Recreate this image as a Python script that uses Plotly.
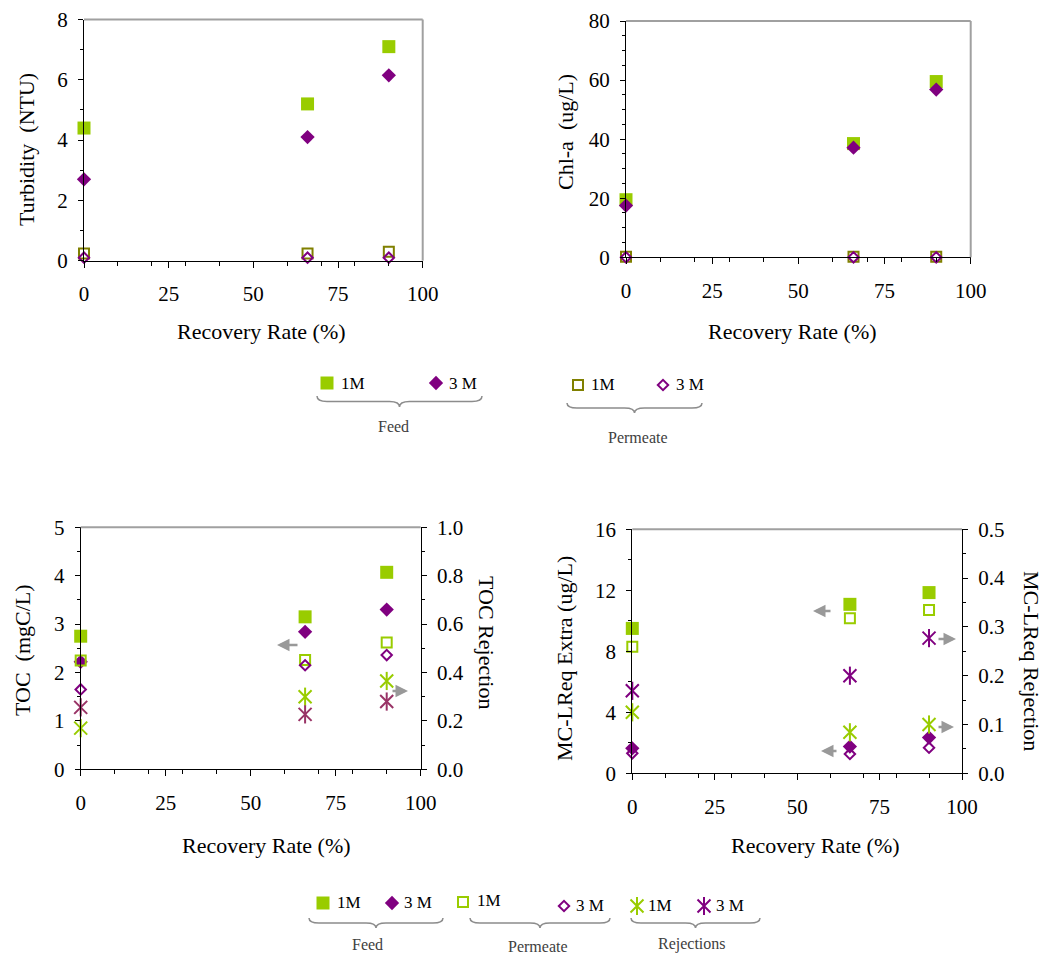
import plotly.graph_objects as go

# ---------------- data ----------------
recovery = [0, 66, 90]

turb_feed_1m = [4.4, 5.2, 7.1]
turb_feed_3m = [2.7, 4.1, 6.15]
turb_perm_1m = [0.24, 0.24, 0.3]
turb_perm_3m = [0.1, 0.1, 0.1]

chl_feed_1m = [19.5, 38.5, 59.5]
chl_feed_3m = [17.5, 37.1, 56.8]
chl_perm_1m = [0.2, 0.2, 0.2]
chl_perm_3m = [0.0, 0.0, 0.0]

toc_feed_1m = [2.75, 3.15, 4.07]
toc_feed_3m = [2.22, 2.84, 3.3]
toc_perm_1m = [2.25, 2.26, 2.62]
toc_perm_3m = [1.65, 2.15, 2.36]
toc_rej_1m = [0.17, 0.30, 0.365]
toc_rej_3m = [0.256, 0.227, 0.28]

mc_feed_1m = [9.5, 11.08, 11.85]
mc_feed_3m = [1.64, 1.75, 2.34]
mc_perm_1m = [8.3, 10.16, 10.7]
mc_perm_3m = [1.31, 1.27, 1.68]
mc_rej_1m = [0.125, 0.084, 0.10]
mc_rej_3m = [0.169, 0.20, 0.277]

# ---------------- style ----------------
W, H = 1043, 956
FONT = "Liberation Serif"
LIME = "#99CC00"
PURPLE = "#800080"
OLIVE = "#808000"
PLUM = "#993366"
GRAY = "#A0A0A0"
TICK_SIZE = 21
TITLE_SIZE = 22

def px_x(p):
    return p / W

def px_y(p):
    return 1 - p / H

fig = go.Figure()

def add(x, y, xa, ya, symbol, color, size, lw=0):
    fig.add_trace(go.Scatter(
        x=x, y=y, xaxis=xa, yaxis=ya, mode="markers", showlegend=False,
        cliponaxis=False,
        marker=dict(symbol=symbol, size=size, color=color,
                    line=dict(color=color, width=lw))))

def add_star(x, y, xa, ya, color, size=13):
    for sym in ("x-thin-open", "line-ns-open"):
        fig.add_trace(go.Scatter(
            x=x, y=y, xaxis=xa, yaxis=ya, mode="markers", showlegend=False,
            cliponaxis=False,
            marker=dict(symbol=sym, size=size, color=color,
                        line=dict(color=color, width=2))))

# Turbidity (x, y)
add(recovery, turb_feed_1m, "x", "y", "square", LIME, 13)
add(recovery, turb_feed_3m, "x", "y", "diamond", PURPLE, 11)
add(recovery, turb_perm_1m, "x", "y", "square-open", OLIVE, 10, 2)
add(recovery, turb_perm_3m, "x", "y", "diamond-open", PURPLE, 8, 2)

# Chl-a (x2, y2)
add(recovery, chl_feed_1m, "x2", "y2", "square", LIME, 13)
add(recovery, chl_feed_3m, "x2", "y2", "diamond", PURPLE, 11)
add(recovery, chl_perm_1m, "x2", "y2", "square-open", OLIVE, 10, 2)
add(recovery, chl_perm_3m, "x2", "y2", "diamond-open", PURPLE, 8, 2)

# TOC (x3, y3 / y5)
add(recovery, toc_feed_1m, "x3", "y3", "square", LIME, 13)
add(recovery, toc_feed_3m, "x3", "y3", "diamond", PURPLE, 11)
add(recovery, toc_perm_1m, "x3", "y3", "square-open", LIME, 10, 2)
add(recovery, toc_perm_3m, "x3", "y3", "diamond-open", PURPLE, 8, 2)
add_star(recovery, toc_rej_1m, "x3", "y5", LIME)
add_star(recovery, toc_rej_3m, "x3", "y5", PLUM)

# MC-LReq (x4, y4 / y6)
add(recovery, mc_feed_1m, "x4", "y4", "square", LIME, 13)
add(recovery, mc_feed_3m, "x4", "y4", "diamond", PURPLE, 11)
add(recovery, mc_perm_1m, "x4", "y4", "square-open", LIME, 10, 2)
add(recovery, mc_perm_3m, "x4", "y4", "diamond-open", PURPLE, 8, 2)
add_star(recovery, mc_rej_1m, "x4", "y6", LIME)
add_star(recovery, mc_rej_3m, "x4", "y6", PURPLE)

# ---------------- legend keys on a pixel overlay axis ----------------
leg_keys = [(327, 383, "square", LIME, 13, 0),
            (436, 383, "diamond", PURPLE, 11, 0),
            (578, 385, "square-open", OLIVE, 10, 2),
            (663, 385, "diamond-open", PURPLE, 8, 2),
            (323, 903, "square", LIME, 13, 0),
            (392, 903, "diamond", PURPLE, 11, 0),
            (463, 902, "square-open", LIME, 10, 2),
            (564, 906, "diamond-open", PURPLE, 8, 2)]
for (lx, ly, sym, col, sz, lw) in leg_keys:
    add([lx], [ly], "x9", "y9", sym, col, sz, lw)
add_star([637], [906], "x9", "y9", LIME)
add_star([704], [906], "x9", "y9", PURPLE)

# ---------------- axes ----------------
def xaxis_common(dom):
    return dict(domain=[px_x(dom[0]), px_x(dom[1])], range=[0, 100],
                tickvals=[0, 25, 50, 75, 100], ticks="outside", ticklen=6,
                tickcolor="black",
                minor=dict(dtick=10, tick0=0, ticks="outside", ticklen=4, tickcolor="black"),
                showline=True, linecolor="black", linewidth=1, showgrid=False,
                zeroline=False, automargin=False,
                tickfont=dict(family=FONT, size=TICK_SIZE, color="black"),
                ticklabelstandoff=8)

def yaxis_common(dom, rng, dtick, mdtick, side="left", overlay=None, fmt=None):
    d = dict(domain=[px_y(dom[1]), px_y(dom[0])], range=rng, dtick=dtick, tick0=0,
             ticks="outside", ticklen=5, tickcolor="black",
             minor=dict(dtick=mdtick, tick0=0, ticks="outside", ticklen=3, tickcolor="black"),
             showline=True, linecolor="black", linewidth=1, showgrid=False,
             zeroline=False, automargin=False,
             tickfont=dict(family=FONT, size=TICK_SIZE, color="black"),
             side=side, ticklabelstandoff=6)
    if overlay:
        d["overlaying"] = overlay
        d["anchor"] = overlay.replace("y", "x")
    if fmt:
        d["tickformat"] = fmt
    return d

P1x, P1y = (84, 422.7), (19.5, 260.7)
P2x, P2y = (626, 970.7), (21, 257.3)
P3x, P3y = (80.7, 420.7), (527.3, 769.3)
P4x, P4y = (632.3, 962), (529.3, 773.3)

layout = dict(
    template="none",
    width=W, height=H, margin=dict(l=0, r=0, t=0, b=0, pad=0), autosize=False,
    paper_bgcolor="white", plot_bgcolor="rgba(0,0,0,0)",
    font=dict(family=FONT, color="black"), showlegend=False,
    xaxis=dict(xaxis_common(P1x), anchor="y"),
    yaxis=dict(yaxis_common(P1y, [0, 8], 2, 1), anchor="x"),
    xaxis2=dict(xaxis_common(P2x), anchor="y2"),
    yaxis2=dict(yaxis_common(P2y, [0, 80], 20, 5), anchor="x2"),
    xaxis3=dict(xaxis_common(P3x), anchor="y3"),
    yaxis3=dict(yaxis_common(P3y, [0, 5], 1, 0.5), anchor="x3"),
    xaxis4=dict(xaxis_common(P4x), anchor="y4"),
    yaxis4=dict(yaxis_common(P4y, [0, 16], 4, 2), anchor="x4"),
    yaxis5=yaxis_common(P3y, [0, 1], 0.2, 0.1, side="right", overlay="y3", fmt=".1f"),
    yaxis6=yaxis_common(P4y, [0, 0.5], 0.1, 0.05, side="right", overlay="y4", fmt=".1f"),
    xaxis9=dict(domain=[0, 1], range=[0, W], visible=False, anchor="y9", automargin=False),
    yaxis9=dict(domain=[0, 1], range=[H, 0], visible=False, anchor="x9", automargin=False),
)
fig.update_layout(**layout)

# gray border lines (top and right of plot areas)
shapes = []
for xr, yr in (("x", "y"), ("x2", "y2")):
    shapes.append(dict(type="line", xref=f"{xr} domain", yref=f"{yr} domain",
                       x0=0, x1=1, y0=1, y1=1, line=dict(color=GRAY, width=2)))
    shapes.append(dict(type="line", xref=f"{xr} domain", yref=f"{yr} domain",
                       x0=1, x1=1, y0=0, y1=1, line=dict(color=GRAY, width=2)))
for xr, yr in (("x3", "y3"), ("x4", "y4")):
    shapes.append(dict(type="line", xref=f"{xr} domain", yref=f"{yr} domain",
                       x0=0, x1=1, y0=1, y1=1, line=dict(color=GRAY, width=2)))

def brace(x0, x1, ytop, ydip):
    xm = (x0 + x1) / 2
    ymid = (ytop + ydip) / 2
    r = 10
    path = (f"M{x0},{ytop} Q{x0},{ymid} {x0 + r},{ymid} L{xm - r},{ymid} "
            f"Q{xm},{ymid} {xm},{ydip} Q{xm},{ymid} {xm + r},{ymid} "
            f"L{x1 - r},{ymid} Q{x1},{ymid} {x1},{ytop}")
    return dict(type="path", xref="x9", yref="y9", path=path,
                line=dict(color="#8C8C8C", width=1.5))

shapes += [brace(317, 482, 396, 407), brace(567, 702, 403, 413),
           brace(309, 443, 918, 928), brace(470, 610, 918, 928),
           brace(631, 760, 918, 928)]
fig.update_layout(shapes=shapes)

# ---------------- annotations ----------------
ann = []

def text(x, y, s, size=TITLE_SIZE, angle=0, color="black", xanchor="center"):
    ann.append(dict(xref="x9", yref="y9", x=x, y=y, text=s, showarrow=False,
                    textangle=angle, xanchor=xanchor, yanchor="middle",
                    font=dict(family=FONT, size=size, color=color)))

text(261, 331, "Recovery Rate (%)")
text(792, 331, "Recovery Rate (%)")
text(266, 845, "Recovery Rate (%)")
text(815, 845, "Recovery Rate (%)")
text(26, 150, "Turbidity  (NTU)", angle=-90)
text(565, 132, "Chl-a  (ug/L)", angle=-90)
text(22, 650, "TOC  (mgC/L)", angle=-90)
text(487, 642, "TOC Rejection", angle=90)
text(564, 659, "MC-LReq Extra (ug/L)", angle=-90)
text(1032, 661, "MC-LReq Rejection", angle=90)

# legend labels
for (x, y, s) in [(339, 383, "1M"), (447, 383, "3 M"), (589, 384, "1M"), (674, 384, "3 M"),
                  (335, 902, "1M"), (402, 902, "3 M"), (475, 900, "1M"), (574, 905, "3 M"),
                  (646, 905, "1M"), (714, 905, "3 M")]:
    text(x, y, s, size=17, xanchor="left")

for (x, y, s) in [(393, 426, "Feed"), (638, 437, "Permeate"),
                  (367, 944, "Feed"), (538, 946, "Permeate"), (692, 944, "Rejections")]:
    text(x, y, s, size=16, color="#404040")

# axis-pointer arrows
for (hx, tx, y) in [(277, 299, 645), (408, 391, 691),
                    (813, 832, 611), (821, 838, 751), (956, 937, 639), (954, 937, 727)]:
    ann.append(dict(xref="x9", yref="y9", axref="x9", ayref="y9",
                    x=hx, y=y, ax=tx, ay=y, text="", showarrow=True,
                    arrowhead=2, arrowsize=1, arrowwidth=2.5, arrowcolor="#999999"))

fig.update_layout(annotations=ann)

fig.write_html("out.html")
